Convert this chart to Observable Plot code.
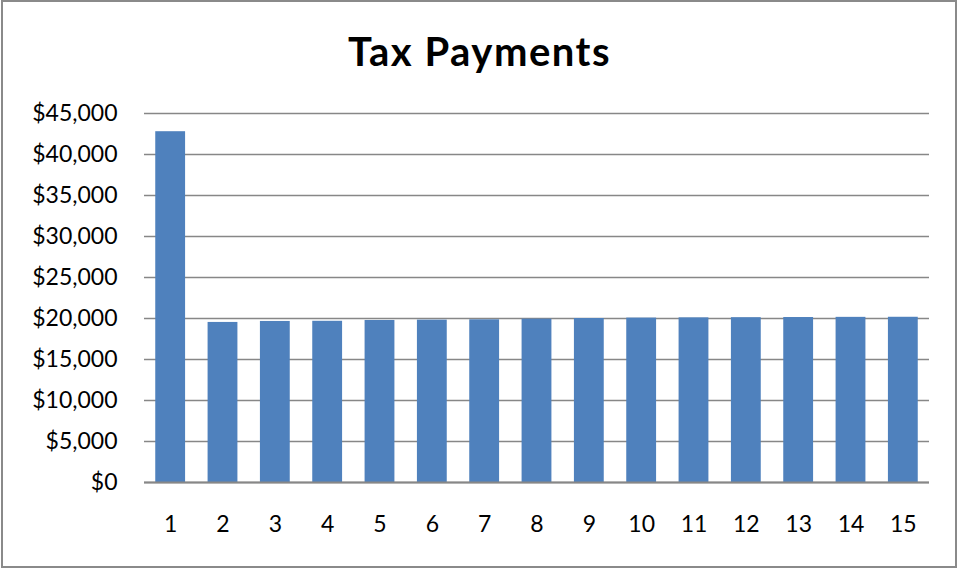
<!DOCTYPE html>
<html>
<head>
<meta charset="utf-8">
<script src="https://cdn.jsdelivr.net/npm/d3@7"></script>
<script src="https://cdn.jsdelivr.net/npm/@observablehq/plot@0.6"></script>
<style>
  html, body { margin: 0; padding: 0; background: #fff; }
  #wrap { position: relative; width: 959px; height: 569px; overflow: hidden; }
  #frame { position: absolute; left: 1px; top: 0px; width: 956px; height: 568px; box-sizing: border-box; border: 2px solid #8a8a8a; }
  #title { position: absolute; left: 0; width: 959px; top: 31px; line-height: 1; text-align: center; font-family: Lato, "Liberation Sans", sans-serif; font-weight: bold; font-size: 40px; letter-spacing: 1.5px; color: #000; }
  #chart { position: absolute; left: 0; top: 0; }
</style>
</head>
<body>
<div id="wrap">
  <div id="frame"></div>
  <div id="title">Tax Payments</div>
  <div id="chart"></div>
</div>
<script>
const periods = [1, 2, 3, 4, 5, 6, 7, 8, 9, 10, 11, 12, 13, 14, 15];
const payments = [42780, 19520, 19640, 19660, 19760, 19800, 19840, 19920, 20000, 20050, 20080, 20100, 20120, 20140, 20150];
const yTicks = [0, 5000, 10000, 15000, 20000, 25000, 30000, 35000, 40000, 45000];

const data = periods.map((p, i) => ({period: p, value: payments[i]}));

const chart = Plot.plot({
  width: 959,
  height: 569,
  marginLeft: 144,
  marginRight: 30,
  marginTop: 113,
  marginBottom: 87,
  style: {fontFamily: "Lato, 'Liberation Sans', sans-serif", fontSize: "23px", color: "#000", background: "transparent"},
  x: {domain: periods, paddingInner: 0.43, paddingOuter: 0.215, round: false, label: null, tickSize: 0, tickPadding: 34},
  y: {domain: [0, 45000], ticks: yTicks, tickFormat: d3.format("$,"), label: null, tickSize: 0, tickPadding: 27},
  marks: [
    Plot.gridY(yTicks, {stroke: "#878787", strokeOpacity: 1, strokeWidth: 1.5}),
    Plot.barY(data, {x: "period", y: "value", fill: "#4F81BD"}),
    Plot.ruleY([0], {stroke: "#878787", strokeWidth: 2}),
    Plot.axisX({tickSize: 0, tickPadding: 33, fontSize: 23}),
    Plot.axisY({ticks: yTicks, tickFormat: d3.format("$,"), tickSize: 0, tickPadding: 27, fontSize: 23})
  ]
});
document.getElementById("chart").appendChild(chart);
</script>
</body>
</html>
